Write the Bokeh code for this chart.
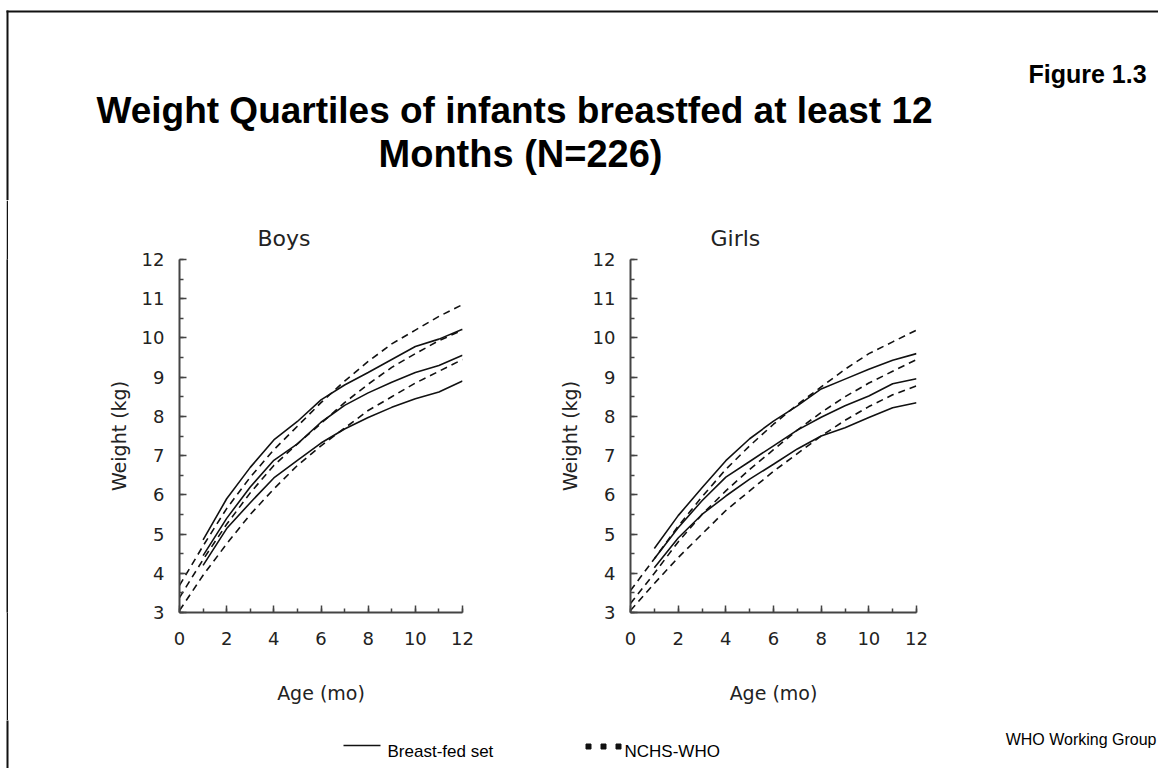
from bokeh.plotting import figure
from bokeh.models import Range1d, SingleIntervalTicker, Spacer
from bokeh.layouts import column, row
from bokeh.embed import file_html
from bokeh.resources import INLINE
from bokeh.core.properties import value

# ---------------- data ----------------
months_bf = [1, 2, 3, 4, 5, 6, 7, 8, 9, 10, 11, 12]
months_nchs = [0, 1, 2, 3, 4, 5, 6, 7, 8, 9, 10, 11, 12]

boys_bf_p75 = [4.85, 5.9, 6.7, 7.4, 7.87, 8.42, 8.8, 9.12, 9.45, 9.78, 9.97, 10.22]
boys_bf_p50 = [4.45, 5.4, 6.2, 6.88, 7.3, 7.85, 8.28, 8.6, 8.87, 9.12, 9.3, 9.56]
boys_bf_p25 = [4.2, 5.14, 5.8, 6.43, 6.88, 7.32, 7.68, 7.97, 8.23, 8.45, 8.62, 8.9]

boys_nchs_p75 = [3.69, 4.7, 5.65, 6.45, 7.15, 7.75, 8.35, 8.9, 9.4, 9.85, 10.2, 10.55, 10.85]
boys_nchs_p50 = [3.38, 4.35, 5.25, 6.05, 6.75, 7.3, 7.82, 8.35, 8.82, 9.25, 9.6, 9.93, 10.2]
boys_nchs_p25 = [3.05, 3.95, 4.75, 5.5, 6.15, 6.75, 7.25, 7.7, 8.15, 8.5, 8.85, 9.15, 9.45]

girls_bf_p75 = [4.63, 5.47, 6.18, 6.87, 7.43, 7.88, 8.27, 8.7, 8.95, 9.2, 9.43, 9.6]
girls_bf_p50 = [4.37, 5.16, 5.85, 6.45, 6.85, 7.25, 7.65, 7.98, 8.27, 8.52, 8.83, 8.96]
girls_bf_p25 = [4.14, 4.9, 5.5, 5.97, 6.4, 6.78, 7.17, 7.5, 7.71, 7.97, 8.22, 8.35]

girls_nchs_p75 = [3.56, 4.37, 5.2, 5.95, 6.65, 7.25, 7.8, 8.3, 8.75, 9.2, 9.6, 9.9, 10.2]
girls_nchs_p50 = [3.23, 4.0, 4.8, 5.5, 6.1, 6.65, 7.15, 7.65, 8.1, 8.5, 8.85, 9.15, 9.45]
girls_nchs_p25 = [3.05, 3.74, 4.4, 5.0, 5.6, 6.1, 6.6, 7.05, 7.5, 7.9, 8.25, 8.55, 8.78]

title_line1 = "Weight Quartiles of infants breastfed at least 12"
title_line2 = "Months (N=226)"
figure_label = "Figure 1.3"
source_label = "WHO Working Group"
legend_labels = ["Breast-fed set", "NCHS-WHO"]
x_label = "Age (mo)"
y_label = "Weight (kg)"

INK = "#111111"
AXIS = "#444444"
CHART_FONT = "DejaVu Sans"
W = 1158


def blank(width, height, x0, x1, y0, y1):
    p = figure(width=width, height=height, x_range=Range1d(x0, x1), y_range=Range1d(y0, y1),
               x_axis_type=None, y_axis_type=None, min_border=0, toolbar_location=None,
               output_backend="svg", outline_line_color=None)
    p.grid.visible = False
    return p


# ---------------- header ----------------
header = blank(W, 200, 0, W, 200, 0)
header.line(x=[7, 7], y=[10, 201], line_color=INK, line_width=2)
header.line(x=[6, W], y=[11, 11], line_color=INK, line_width=2)
header.text(x=[514], y=[110], text=[title_line1], text_font=value("Liberation Sans"),
            text_font_style="bold", text_font_size="37px", text_align="center",
            text_baseline="alphabetic", text_color="#000000")
header.text(x=[520], y=[153], text=[title_line2], text_font=value("Liberation Sans"),
            text_font_style="bold", text_font_size="38px", text_align="center",
            text_baseline="alphabetic", text_color="#000000")
header.text(x=[1028], y=[73], text=[figure_label], text_font=value("Liberation Sans"),
            text_font_style="bold", text_font_size="25px", text_align="left",
            text_baseline="alphabetic", text_color="#000000")


# ---------------- charts ----------------
def chart(title, bf, nchs, width, left, right, title_offset):
    p = figure(width=width, height=520, x_range=Range1d(0, 12), y_range=Range1d(3, 12),
               min_border_left=left, min_border_right=right, min_border_top=59,
               min_border_bottom=108, toolbar_location=None, output_backend="svg",
               outline_line_color=None, title=title)
    p.grid.visible = False
    p.title.text_font = CHART_FONT
    p.title.text_font_size = "22px"
    p.title.text_font_style = "normal"
    p.title.text_color = "#222222"
    p.title.align = "left"
    p.title.offset = title_offset
    p.title.standoff = 17

    p.xaxis.ticker = SingleIntervalTicker(interval=2, num_minor_ticks=2)
    p.yaxis.ticker = SingleIntervalTicker(interval=1, num_minor_ticks=2)
    for ax in (p.xaxis[0], p.yaxis[0]):
        ax.axis_line_color = AXIS
        ax.axis_line_width = 2
        ax.major_tick_line_color = AXIS
        ax.minor_tick_line_color = AXIS
        ax.major_tick_line_width = 1.5
        ax.minor_tick_line_width = 1.5
        ax.major_tick_in = 7
        ax.major_tick_out = 0
        ax.minor_tick_in = 4
        ax.minor_tick_out = 0
        ax.major_label_text_font = CHART_FONT
        ax.major_label_text_font_size = "18px"
        ax.major_label_text_color = "#222222"
        ax.axis_label_text_font = CHART_FONT
        ax.axis_label_text_font_size = "19px"
        ax.axis_label_text_font_style = "normal"
        ax.axis_label_text_color = "#222222"
    p.xaxis.axis_label = x_label
    p.yaxis.axis_label = y_label
    p.xaxis.major_label_standoff = 19
    p.yaxis.major_label_standoff = 15
    p.xaxis.axis_label_standoff = 34
    p.yaxis.axis_label_standoff = 9

    for ys in nchs:
        p.line(months_nchs, ys, line_color=INK, line_width=1.6, line_dash="7 5")
    for ys in bf:
        p.line(months_bf, ys, line_color=INK, line_width=1.6)
    return p


boys = chart("Boys", [boys_bf_p75, boys_bf_p50, boys_bf_p25],
             [boys_nchs_p75, boys_nchs_p50, boys_nchs_p25], 537, 171, 83, 78)
girls = chart("Girls", [girls_bf_p75, girls_bf_p50, girls_bf_p25],
              [girls_nchs_p75, girls_nchs_p50, girls_nchs_p25], 613, 85, 242, 80)

strip = figure(width=2, height=520, x_axis_type=None, y_axis_type=None, min_border=0,
               toolbar_location=None, output_backend="svg", outline_line_color=None,
               background_fill_color=INK, border_fill_color=INK)
strip.grid.visible = False

# ---------------- footer ----------------
footer = blank(W, 48, 0, W, 768, 720)
footer.line(x=[7, 7], y=[719, 769], line_color=INK, line_width=2)
footer.line(x=[343, 380], y=[745, 745], line_color=INK, line_width=1.6)
footer.scatter(x=[588, 603, 618], y=[746, 746, 746], marker="square", size=5,
               fill_color=INK, line_color=INK)
footer.text(x=[387], y=[751], text=[legend_labels[0]], text_font=value("Liberation Sans"),
            text_font_size="17px", text_align="left", text_baseline="alphabetic",
            text_color="#000000")
footer.text(x=[624], y=[751], text=[legend_labels[1]], text_font=value("Liberation Sans"),
            text_font_size="17px", text_align="left", text_baseline="alphabetic",
            text_color="#000000")
footer.text(x=[1156], y=[739], text=[source_label], text_font=value("Liberation Sans"),
            text_font_size="16px", text_align="right", text_baseline="alphabetic",
            text_color="#000000")

layout = column(header, row(Spacer(width=6, height=520), strip, boys, girls), footer)

open("out.html", "w").write(file_html(layout, INLINE))
